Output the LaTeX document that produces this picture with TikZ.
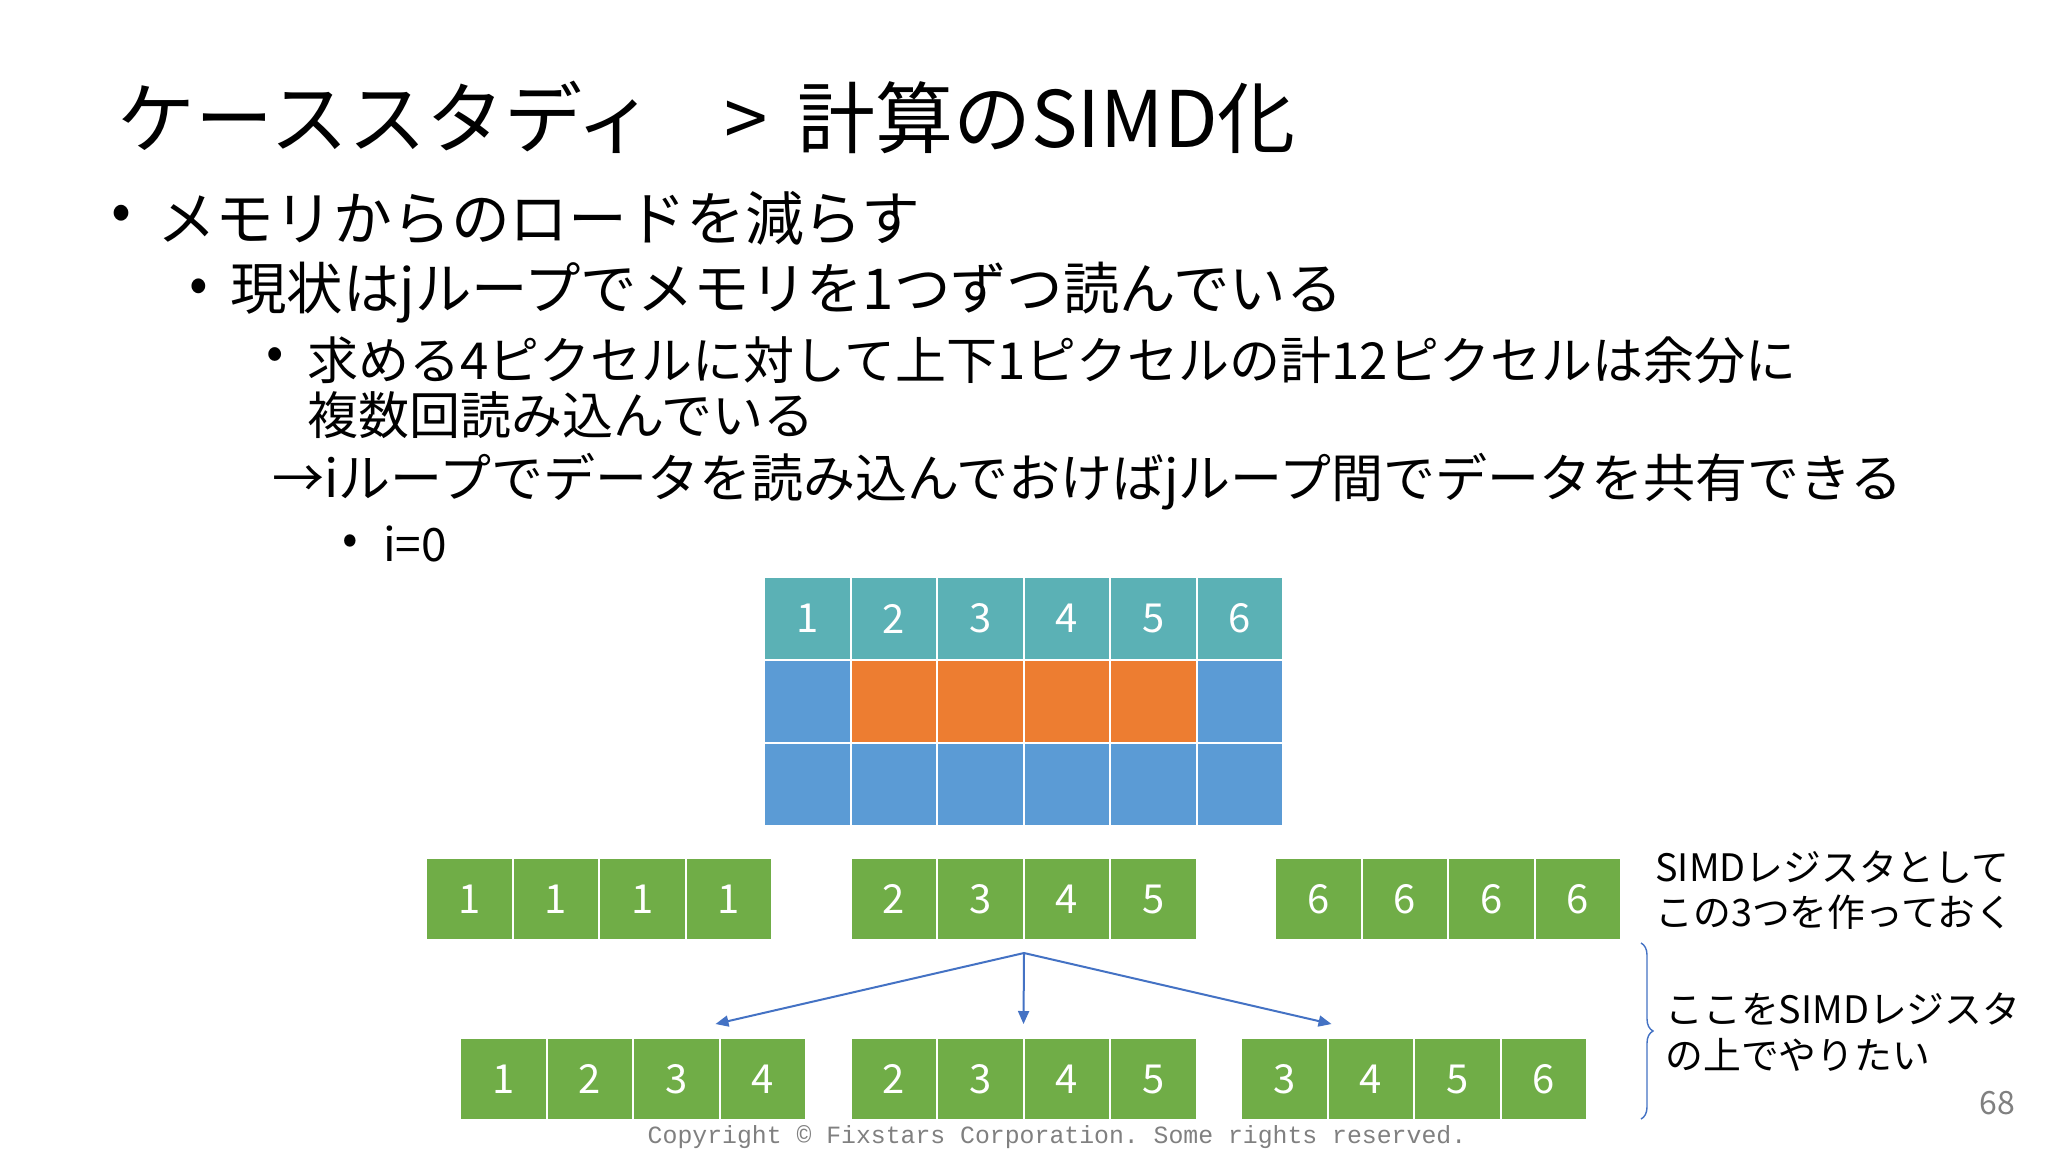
\documentclass[tikz,border=0pt]{standalone}
\usepackage{fontspec}
\setmainfont{Noto Sans CJK JP}
\setmonofont{Liberation Mono}
\usepackage{tikz}
\usetikzlibrary{positioning,arrows.meta,decorations.pathreplacing}
\definecolor{topc}{RGB}{91,177,181}
\definecolor{bluec}{RGB}{91,155,213}
\definecolor{orangec}{RGB}{237,125,49}
\definecolor{regc}{RGB}{112,173,71}
\definecolor{linec}{RGB}{68,114,196}
\definecolor{footc}{RGB}{128,128,128}

\begin{document}
\begin{tikzpicture}
[x=0.5pt,y=-0.5pt,
cell/.style={draw=white,line width=1pt,minimum width=43.25pt,minimum height=41.5pt,inner sep=0pt,outer sep=0pt,text=white,font=\fontsize{20}{20}\selectfont},
reg/.style={cell,fill=regc,minimum height=41pt},
txt/.style={anchor=west,inner sep=0pt},
bul/.style={inner sep=0pt},
arr/.style={draw=linec,line width=1pt,-{Triangle[length=6.5pt,width=5.5pt]}},
curly/.style={draw=linec,line width=0.7pt,decorate,decoration={brace,amplitude=6pt}}]

\useasboundingbox[fill=white] (0,0) rectangle (2048,1152);

\node[txt,font=\fontsize{39}{42}\selectfont] (title) at (117.5,117.5) {ケーススタディ \hspace{0.68em}> \hspace{0.15em}計算のSIMD化};

\node[bul,font=\fontsize{29.4}{32}\selectfont] (dot1) at (121.5,218) {\textbullet};
\node[txt,font=\fontsize{29.4}{32}\selectfont] (l1) at (156.7,218.8) {メモリからのロードを減らす};

\node[bul,font=\fontsize{27.5}{30}\selectfont] (dot2) at (198.5,291) {\textbullet};
\node[txt,font=\fontsize{28.2}{30}\selectfont] (l2) at (229.9,293) {現状はjループでメモリを1つずつ読んでいる};

\node[bul,font=\fontsize{25.5}{28}\selectfont] (dot3) at (275.6,359) {\textbullet};
\node[txt,font=\fontsize{25.5}{28}\selectfont] (l3a) at (307,360.5) {求める4ピクセルに対して上下1ピクセルの計12ピクセルは余分に};
\node[txt,font=\fontsize{25.5}{28}\selectfont] (l3b) at (307,415) {複数回読み込んでいる};
\node[txt,font=\fontsize{26}{28}\selectfont] (l3c) at (271.6,482) {→iループでデータを読み込んでおけばjループ間でデータを共有できる};

\node[bul,font=\fontsize{23}{26}\selectfont] (dot4) at (350,544.6) {\textbullet};
\node[txt,font=\fontsize{23}{26}\selectfont] (l4) at (382.6,544) {i=0};

\node[cell,fill=topc] (g1) at (807.25,618.5) {1};
\node[cell,fill=topc,right=0pt of g1] (g2) {2};
\node[cell,fill=topc,right=0pt of g2] (g3) {3};
\node[cell,fill=topc,right=0pt of g3] (g4) {4};
\node[cell,fill=topc,right=0pt of g4] (g5) {5};
\node[cell,fill=topc,right=0pt of g5] (g6) {6};
\node[cell,fill=bluec,below=0pt of g1] (h1) {};
\node[cell,fill=orangec,right=0pt of h1] (h2) {};
\node[cell,fill=orangec,right=0pt of h2] (h3) {};
\node[cell,fill=orangec,right=0pt of h3] (h4) {};
\node[cell,fill=orangec,right=0pt of h4] (h5) {};
\node[cell,fill=bluec,right=0pt of h5] (h6) {};
\node[cell,fill=bluec,below=0pt of h1] (k1) {};
\node[cell,fill=bluec,right=0pt of k1] (k2) {};
\node[cell,fill=bluec,right=0pt of k2] (k3) {};
\node[cell,fill=bluec,right=0pt of k3] (k4) {};
\node[cell,fill=bluec,right=0pt of k4] (k5) {};
\node[cell,fill=bluec,right=0pt of k5] (k6) {};

\node[reg] (a1) at (469.25,899) {1};
\node[reg,right=0pt of a1] (a2) {1};
\node[reg,right=0pt of a2] (a3) {1};
\node[reg,right=0pt of a3] (a4) {1};
\node[reg] (b1) at (893.75,899) {2};
\node[reg,right=0pt of b1] (b2) {3};
\node[reg,right=0pt of b2] (b3) {4};
\node[reg,right=0pt of b3] (b4) {5};
\node[reg] (c1) at (1318.25,899) {6};
\node[reg,right=0pt of c1] (c2) {6};
\node[reg,right=0pt of c2] (c3) {6};
\node[reg,right=0pt of c3] (c4) {6};

\node[reg] (d1) at (503.25,1079) {1};
\node[reg,right=0pt of d1] (d2) {2};
\node[reg,right=0pt of d2] (d3) {3};
\node[reg,right=0pt of d3] (d4) {4};
\node[reg] (e1) at (893.75,1079) {2};
\node[reg,right=0pt of e1] (e2) {3};
\node[reg,right=0pt of e2] (e3) {4};
\node[reg,right=0pt of e3] (e4) {5};
\node[reg] (f1) at (1284.25,1079) {3};
\node[reg,right=0pt of f1] (f2) {4};
\node[reg,right=0pt of f2] (f3) {5};
\node[reg,right=0pt of f3] (f4) {6};

\coordinate (fork) at (1024,953);
\draw[arr] (fork) -- ([xshift=-2pt,yshift=7pt]d3.north east);
\draw[arr] (fork) -- ([yshift=7pt]e2.north east);
\draw[arr] (fork) -- ([xshift=2pt,yshift=7pt]f1.north east);

\coordinate (bt) at (1641,943);
\coordinate (bb) at (1641,1119);
\draw[curly] (bt) -- (bb);

\node[txt,align=left,font=\fontsize{18.9}{22.9}\selectfont] (n1) at (1655,890) {SIMDレジスタとして\\この3つを作っておく};
\node[txt,align=left,font=\fontsize{18.9}{22.9}\selectfont] (n2) at (1665,1032) {ここをSIMDレジスタ\\の上でやりたい};

\node[anchor=east,text=footc,font=\fontsize{16}{17}\selectfont] (pg) at (2022,1103) {68};
\node[text=footc,font=\ttfamily\fontsize{12.4}{14}\selectfont] (copy) at (1057,1137.5) {Copyright © Fixstars Corporation. Some rights reserved.};
\end{tikzpicture}
\end{document}
